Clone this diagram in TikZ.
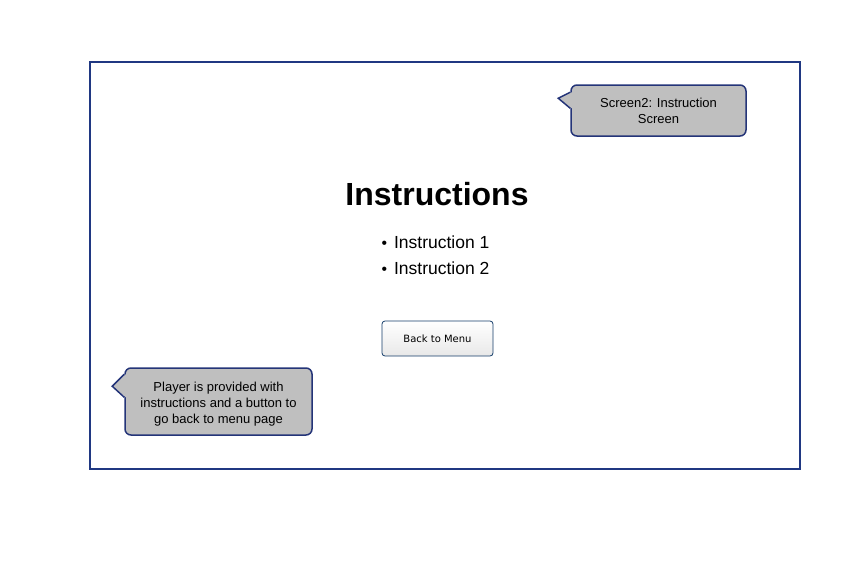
\documentclass[tikz,border=0pt]{standalone}
\usepackage{fontspec}
\setmainfont{Liberation Sans}
\newfontfamily\btnfont{DejaVu Sans}
\usepackage{tikz}
\usetikzlibrary{positioning}
\usepackage{xcolor}
\definecolor{framebd}{RGB}{32,56,130}
\definecolor{notebd}{RGB}{36,52,120}
\definecolor{notegray}{RGB}{191,191,191}
\definecolor{btnbd}{RGB}{20,60,105}

\begin{document}
\begin{tikzpicture}[x=1pt,y=-1pt,
  note/.style={draw=notebd,fill=notegray,line width=1.5pt,rounded corners=6pt,align=center,font=\fontsize{13}{16}\selectfont,inner sep=0pt},
  btn/.style={draw=btnbd,line width=0.8pt,rounded corners=3pt,top color=white,bottom color=black!9,font=\btnfont\fontsize{10}{12}\selectfont},
  item/.style={anchor=west,font=\fontsize{17.5}{20}\selectfont}]
\useasboundingbox (0,0) rectangle (868,562);
\node[draw=framebd,line width=2pt,minimum width=710pt,minimum height=407pt,inner sep=0pt] (screen) at (445,265.5) {};
% callout at top right
\node[note,minimum width=175pt,minimum height=51pt] (scrnote) at (658.5,110.5) {\raisebox{-2pt}[\height][\depth]{\begin{tabular}{@{}c@{}}Screen2: Instruction\\Screen\end{tabular}}};
\fill[notegray] ([shift={(1.5pt,-8pt)}]scrnote.north west) -- ([shift={(-12pt,-14pt)}]scrnote.north west) -- ([shift={(1.5pt,-24pt)}]scrnote.north west) -- cycle;
\draw[notebd,line width=1.5pt,line join=miter] ([yshift=-8pt]scrnote.north west) -- ([shift={(-12pt,-14pt)}]scrnote.north west) -- ([yshift=-24pt]scrnote.north west);
% callout at bottom left
\node[note,minimum width=187pt,minimum height=67pt] (playnote) at (218.5,401.5) {\raisebox{-3pt}[\height][\depth]{\begin{tabular}{@{}c@{}}Player is provided with\\instructions and a button to\\go back to menu page\end{tabular}}};
\fill[notegray] ([shift={(1.5pt,-7pt)}]playnote.north west) -- ([shift={(-12pt,-19pt)}]playnote.north west) -- ([shift={(1.5pt,-30pt)}]playnote.north west) -- cycle;
\draw[notebd,line width=1.5pt,line join=miter] ([yshift=-7pt]playnote.north west) -- ([shift={(-12pt,-19pt)}]playnote.north west) -- ([yshift=-30pt]playnote.north west);
% screen content
\node[font=\bfseries\fontsize{32}{36}\selectfont] (title) at (437,194) {Instructions};
\node[item] (item1) at (378,242) {\scalebox{0.9}{\textbullet}\hspace{7pt}Instruction 1};
\node[item] (item2) at (378,268) {\scalebox{0.9}{\textbullet}\hspace{7pt}Instruction 2};
\node[btn,minimum width=111pt,minimum height=35pt] (back) at (437.5,338.5) {Back to Menu};
\end{tikzpicture}
\end{document}
